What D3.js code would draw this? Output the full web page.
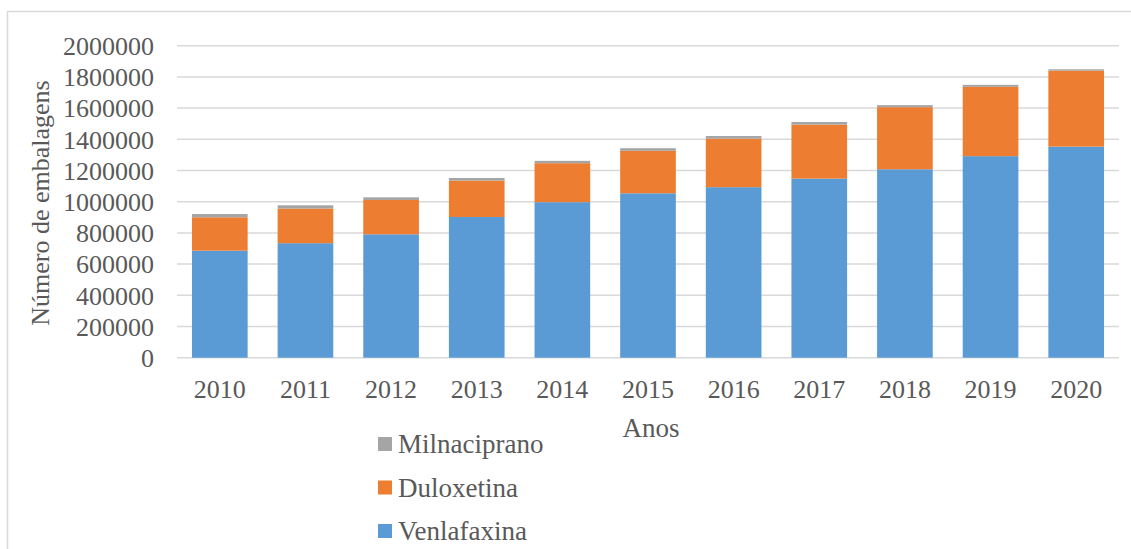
<!DOCTYPE html>
<html>
<head>
<meta charset="utf-8">
<script src="https://cdn.jsdelivr.net/npm/d3@7"></script>
<style>
  body { margin: 0; background: #fff; }
  text { font-family: "Liberation Serif", "Times New Roman", serif; fill: #595959; }
</style>
</head>
<body>
<svg id="chart" width="1131" height="549"></svg>
<script>
// Données
const anos = ['2010', '2011', '2012', '2013', '2014', '2015', '2016', '2017', '2018', '2019', '2020'];
const venlafaxina = [686000, 734000, 791000, 902000, 997000, 1054000, 1093000, 1148000, 1208000, 1292000, 1353000];
const duloxetina = [214000, 222000, 220000, 233000, 250000, 272000, 311000, 346000, 398000, 444000, 487000];
const milnaciprano = [21000, 21000, 17000, 17000, 15000, 17000, 17000, 17000, 13000, 13000, 9000];
const seriesNames = ['Venlafaxina', 'Duloxetina', 'Milnaciprano'];
const seriesColors = ['#5B9BD5', '#ED7D31', '#A5A5A5'];
const yTicks = [0, 200000, 400000, 600000, 800000, 1000000, 1200000, 1400000, 1600000, 1800000, 2000000];

function createChart() {
    const svg = d3.select('#chart');

    // Cadre extérieur
    svg.append('rect')
        .attr('x', 7.5).attr('y', 11.5)
        .attr('width', 1200).attr('height', 600)
        .attr('fill', 'none')
        .attr('stroke', '#d9d9d9')
        .attr('stroke-width', 1.5);

    const table = anos.map((a, i) => ({
        ano: a,
        Venlafaxina: venlafaxina[i],
        Duloxetina: duloxetina[i],
        Milnaciprano: milnaciprano[i]
    }));

    const stacked = d3.stack().keys(seriesNames)(table);

    const x = d3.scaleBand()
        .domain(anos)
        .range([177, 1119])
        .paddingInner(0.35)
        .paddingOuter(0.175);

    const y = d3.scaleLinear()
        .domain([0, 2000000])
        .range([357.7, 45.7]);

    // Lignes de grille
    svg.append('g')
        .selectAll('line')
        .data(yTicks)
        .enter()
        .append('line')
        .attr('x1', 177).attr('x2', 1119)
        .attr('y1', d => y(d)).attr('y2', d => y(d))
        .attr('stroke', '#d9d9d9')
        .attr('stroke-width', 1.5);

    // Barres empilées
    svg.append('g')
        .selectAll('g')
        .data(stacked)
        .enter()
        .append('g')
        .attr('fill', (d, i) => seriesColors[i])
        .selectAll('rect')
        .data(d => d)
        .enter()
        .append('rect')
        .attr('x', d => x(d.data.ano))
        .attr('y', d => y(d[1]))
        .attr('width', x.bandwidth())
        .attr('height', d => y(d[0]) - y(d[1]));

    // Axe Y
    const yAxis = svg.append('g')
        .attr('transform', 'translate(177,0)')
        .call(d3.axisLeft(y).tickValues(yTicks).tickFormat(d3.format('d')).tickSize(0).tickPadding(23));
    yAxis.select('.domain').remove();
    yAxis.selectAll('text')
        .style('font-size', '26px')
        .attr('fill', '#595959')
        .attr('dy', '0.34em');

    // Axe X
    const xAxis = svg.append('g')
        .attr('transform', 'translate(0,357.7)')
        .call(d3.axisBottom(x).tickSize(0).tickPadding(22));
    xAxis.select('.domain').remove();
    xAxis.selectAll('text')
        .style('font-size', '26px')
        .attr('fill', '#595959');

    // Titres des axes
    svg.append('text')
        .attr('x', 651).attr('y', 437)
        .attr('text-anchor', 'middle')
        .style('font-size', '27px')
        .text('Anos');

    svg.append('text')
        .attr('transform', 'translate(49,203) rotate(-90)')
        .attr('text-anchor', 'middle')
        .style('font-size', '26px')
        .text('Número de embalagens');

    // Légende
    const legendOrder = [2, 1, 0];
    const legend = svg.append('g');
    legendOrder.forEach((s, k) => {
        const cy = 444 + k * 43.5;
        legend.append('rect')
            .attr('x', 378).attr('y', cy - 7)
            .attr('width', 14).attr('height', 14)
            .attr('fill', seriesColors[s]);
        legend.append('text')
            .attr('x', 398).attr('y', cy + 9)
            .style('font-size', '27px')
            .text(seriesNames[s]);
    });
}

createChart();
</script>
</body>
</html>
